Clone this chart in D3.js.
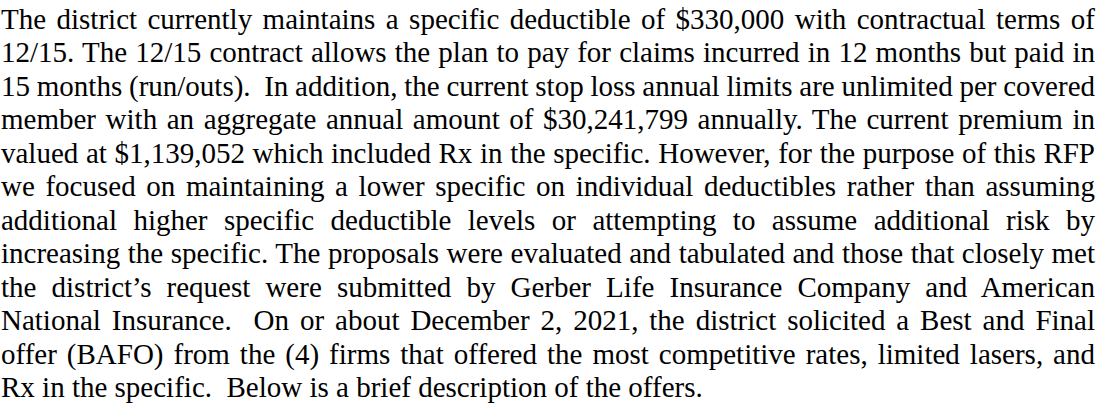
<!DOCTYPE html>
<html>
<head>
<meta charset="utf-8">
<script src="https://cdn.jsdelivr.net/npm/d3@7"></script>
<style>
  html, body { margin: 0; padding: 0; background: #fff; }
  svg { display: block; }
</style>
</head>
<body>
<div id="page"></div>
<script>
// lines of the paragraph, as they break in the picture
var lines = [
  "The district currently maintains a specific deductible of $330,000 with contractual terms of",
  "12/15. The 12/15 contract allows the plan to pay for claims incurred in 12 months but paid in",
  "15 months (run/outs).  In addition, the current stop loss annual limits are unlimited per covered",
  "member with an aggregate annual amount of $30,241,799 annually. The current premium in",
  "valued at $1,139,052 which included Rx in the specific. However, for the purpose of this RFP",
  "we focused on maintaining a lower specific on individual deductibles rather than assuming",
  "additional higher specific deductible levels or attempting to assume additional risk by",
  "increasing the specific. The proposals were evaluated and tabulated and those that closely met",
  "the district\u2019s request were submitted by Gerber Life Insurance Company and American",
  "National Insurance.  On or about December 2, 2021, the district solicited a Best and Final",
  "offer (BAFO) from the (4) firms that offered the most competitive rates, limited lasers, and",
  "Rx in the specific.  Below is a brief description of the offers."
];
// last line is left ragged, the rest are justified
var justified = lines.map(function(d, i) { return i < lines.length - 1; });

var width = 1103, height = 404;
var left = 1, right = 1095;
var fontSize = 29;

var svg = d3.select("#page").append("svg")
    .attr("width", width)
    .attr("height", height);

// one row per line
var y = d3.scaleLinear()
    .domain([0, lines.length - 1])
    .range([29, 397]);

var text = svg.selectAll("text.line")
    .data(lines)
  .enter().append("text")
    .attr("class", "line")
    .attr("x", left)
    .attr("y", function(d, i) { return y(i); })
    .style("font-family", "'Liberation Serif', 'Times New Roman', serif")
    .style("font-size", fontSize + "px")
    .style("white-space", "pre")
    .style("fill", "#000")
    .text(function(d) { return d; });

// spread the extra room over the spaces so both edges line up
text.each(function(d, i) {
  if (!justified[i]) return;
  var w = this.getComputedTextLength();
  var spaces = (d.match(/ /g) || []).length;
  d3.select(this).style("word-spacing", ((right - left - w) / spaces) + "px");
});
</script>
</body>
</html>
